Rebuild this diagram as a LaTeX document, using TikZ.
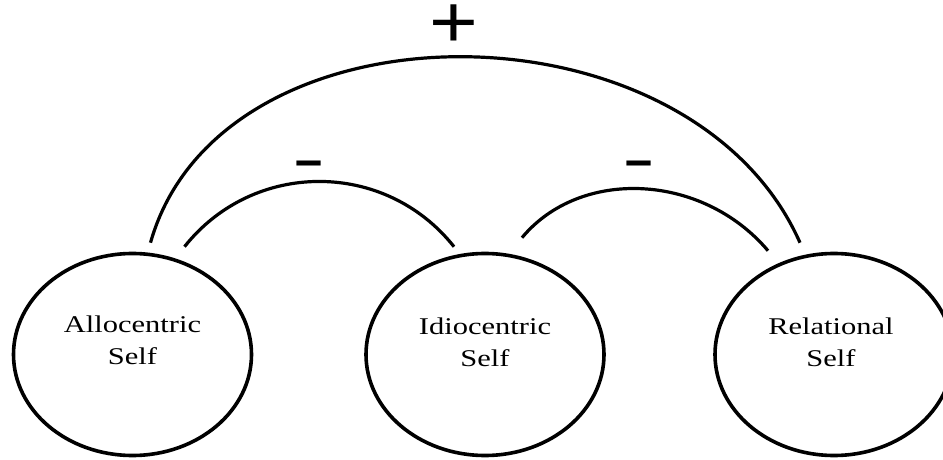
\documentclass[tikz,border=0pt]{standalone}
\usepackage{fontspec}
\setmainfont{Liberation Serif}
\newfontfamily\signfont{Liberation Sans}
\usetikzlibrary{shapes.geometric}

\begin{document}
\begin{tikzpicture}[x=1pt, y=1pt,
	self/.style = {draw, ellipse, line width=3.6pt, minimum width=238pt, minimum height=202pt, inner sep=0pt},
	selftext/.style = {align=center, xscale=1.27, font=\fontsize{24}{32}\selectfont},
	link/.style = {line width=3.2pt},
	possign/.style = {inner sep=0pt, xscale=1.13, font=\signfont\fontsize{74}{74}\selectfont},
	negsign/.style = {inner sep=0pt, xscale=1.55, font=\signfont\fontsize{64}{64}\selectfont}]
	\useasboundingbox (0,0) rectangle (943,459);
	\node[self] (allo) at (132.5,104.5) {};
	\node[self] (idio) at (485,104.5) {};
	\node[self] (rel) at (834,104.5) {};
	\node[selftext] (allotext) at ([yshift=14pt]allo.center) {Allocentric\\Self};
	\node[selftext] (idiotext) at ([yshift=12pt]idio.center) {Idiocentric\\Self};
	\node[selftext] (reltext) at ([shift={(-3,12)}]rel.center) {Relational\\Self};
	% arcs between the selves
	\draw[link] ([shift={(18,9)}]allo.north) .. controls +(70,248) and +(-110,248) .. ([shift={(-34,9)}]rel.north);
	\draw[link] ([shift={(52,5)}]allo.north) .. controls +(69,87) and +(-69,87) .. ([shift={(-31,5)}]idio.north);
	\draw[link] ([shift={(37,14)}]idio.north) .. controls +(58,70) and +(-66,78) .. ([shift={(-66,1)}]rel.north);
	\node[possign] (plus) at (454,433) {+};
	\node[negsign] (minusleft) at (309.5,288.5) {-};
	\node[negsign] (minusright) at (639.5,288.5) {-};
\end{tikzpicture}
\end{document}
